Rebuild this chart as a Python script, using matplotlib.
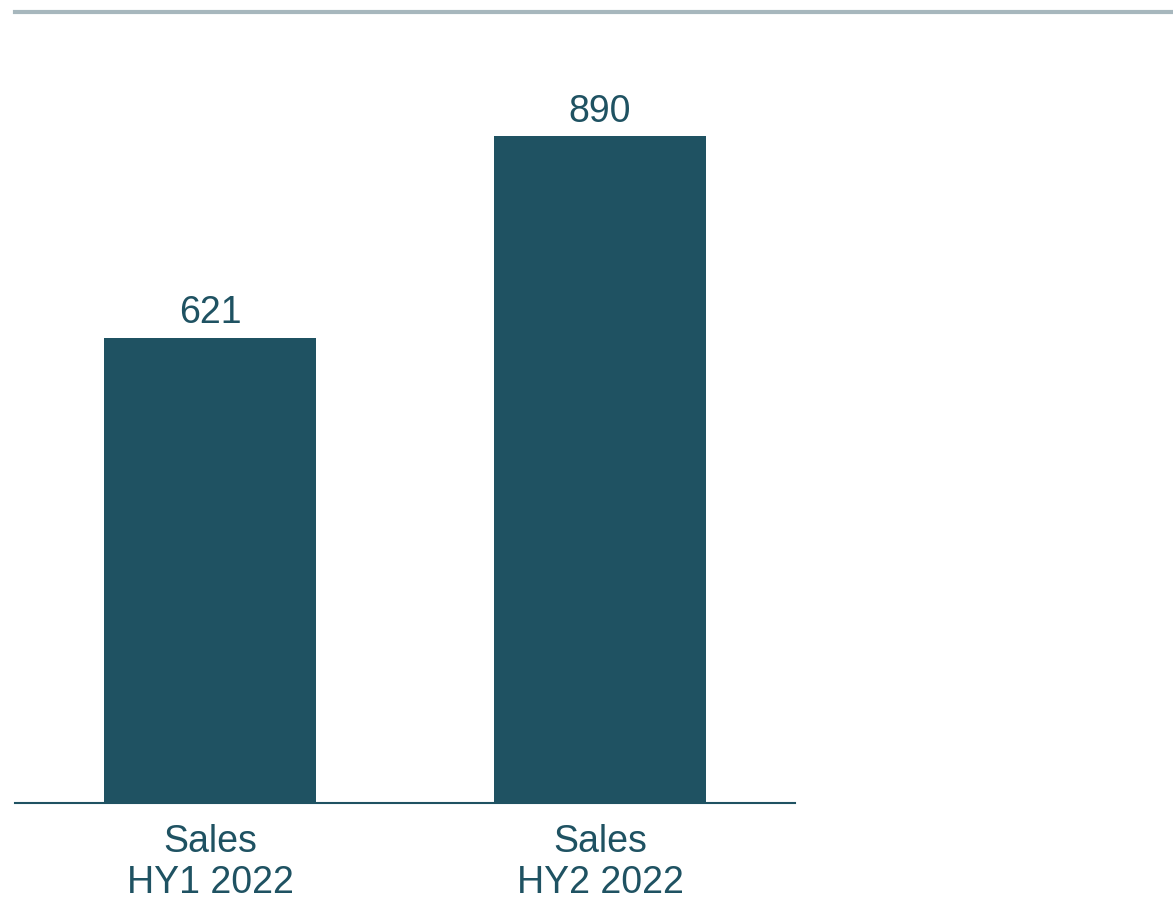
import matplotlib
matplotlib.use("Agg")
import matplotlib.pyplot as plt
from matplotlib.lines import Line2D

categories = ["Sales\nHY1 2022", "Sales\nHY2 2022"]
values = [621, 890]
labels = ["621", "890"]

W, H = 1173, 899
fig = plt.figure(figsize=(W / 100, H / 100), dpi=100)
plt.rcParams['font.family'] = ['Liberation Sans', 'DejaVu Sans']

bar_color = "#1F5262"
text_color = "#1F5262"

ax_left, ax_right = 15, 795
ax_bottom_px, ax_top_px = 803, 60
ax = fig.add_axes([ax_left / W, (H - ax_bottom_px) / H, (ax_right - ax_left) / W, (ax_bottom_px - ax_top_px) / H])

x = list(range(len(categories)))
ax.bar(x, values, width=0.544, color=bar_color, zorder=2)
ax.set_xlim(-0.5, 1.5)
ax.set_ylim(0, (ax_bottom_px - ax_top_px) / 0.749)

for xi, v, lab in zip(x, values, labels):
    ax.annotate(lab, (xi, v), xytext=(0, 10.5), textcoords="offset points",
                ha="center", va="baseline", fontsize=27, color=text_color)

for s in ["top", "right", "left"]:
    ax.spines[s].set_visible(False)
ax.spines["bottom"].set_color(bar_color)
ax.spines["bottom"].set_linewidth(1.5)
ax.set_yticks([])
ax.set_xticks(x)
ax.set_xticklabels(categories, fontsize=27, color=text_color, linespacing=1.17)
ax.tick_params(axis="x", length=0, pad=15)

fig.add_artist(Line2D([15 / W, 1.0], [(H - 12) / H, (H - 12) / H], color="#A7B7BD", linewidth=3, transform=fig.transFigure))

fig.savefig("out.png", dpi=100)
